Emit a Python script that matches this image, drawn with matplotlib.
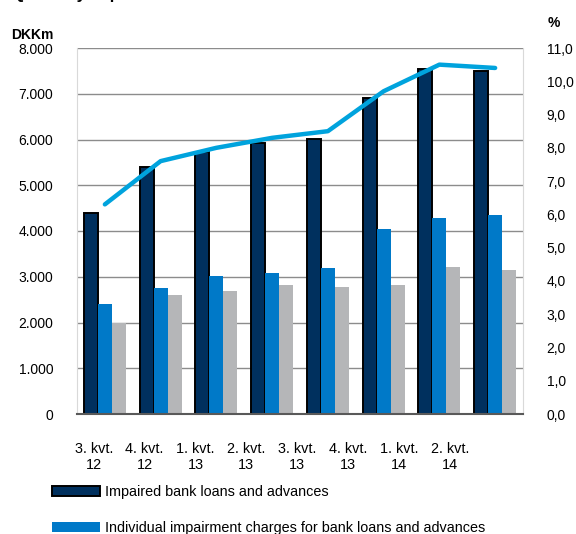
import matplotlib.pyplot as plt
import numpy as np

plt.rcParams['font.family'] = ['Liberation Sans', 'DejaVu Sans']

quarters = ["3. kvt.\n12", "4. kvt.\n12", "1. kvt.\n13", "2. kvt.\n13",
            "3. kvt.\n13", "4. kvt.\n13", "1. kvt.\n14", "2. kvt.\n14"]
impaired = [4400, 5400, 5720, 5930, 6010, 6900, 7540, 7500]
individual = [2400, 2760, 3010, 3080, 3190, 4050, 4290, 4340]
collective = [1990, 2610, 2680, 2810, 2780, 2810, 3210, 3140]
share_pct = [6.3, 7.6, 8.0, 8.3, 8.5, 9.7, 10.5, 10.4]

left_ticks = np.arange(0, 8001, 1000)
left_labels = ["0", "1.000", "2.000", "3.000", "4.000", "5.000", "6.000", "7.000", "8.000"]
right_ticks = np.arange(0, 12, 1)
right_labels = ["%d,0" % v for v in right_ticks]

navy = "#00305E"
blue = "#0079C8"
grey = "#B5B6B8"
line_blue = "#00A3DD"

fig = plt.figure(figsize=(5.76, 5.34), dpi=100)
ax = fig.add_axes([77 / 576, 1 - 414 / 534, 446 / 576, 366 / 534])

x = np.arange(len(quarters))
w = 0.25
b1 = ax.bar(x - w, impaired, w, color=navy, edgecolor="black", linewidth=1.4, zorder=3,
            label="Impaired bank loans and advances")
b2 = ax.bar(x, individual, w, color=blue, zorder=3,
            label="Individual impairment charges for bank loans and advances")
b3 = ax.bar(x + w, collective, w, color=grey, zorder=3,
            label="Collective impairment charges for bank loans and advances")

ax.set_xlim(-0.5, len(quarters) - 0.5)
ax.set_ylim(0, 8000)
ax.set_yticks(left_ticks)
ax.set_yticklabels(left_labels)
ax.grid(axis="y", color="#8C8C8C", linewidth=1, zorder=0)
ax.set_axisbelow(True)

# category labels sit a bit left of the bar groups in the source chart
ax.set_xticks(np.linspace(-0.2, 6.19, len(quarters)))
ax.set_xticklabels(quarters, linespacing=1.2)
ax.tick_params(axis="x", length=0, pad=20, labelsize=10.4)
ax.tick_params(axis="y", length=0, pad=17, labelsize=10)

for s in ["left", "right"]:
    ax.spines[s].set_color("#D9D9D9")
ax.spines["top"].set_visible(False)
ax.spines["bottom"].set_color("#595959")
ax.spines["bottom"].set_linewidth(1.5)
ax.spines["bottom"].set_zorder(4)

ax2 = ax.twinx()
ln, = ax2.plot(x, share_pct, color=line_blue, linewidth=3.2, solid_capstyle="round",
               solid_joinstyle="round", zorder=5,
               label="Impaired loans as share of total bank loans (right axis)")
ax2.set_ylim(0, 11)
ax2.set_yticks(right_ticks)
ax2.set_yticklabels(right_labels)
ax2.tick_params(axis="y", length=0, pad=17, labelsize=10)
for s in ["left", "right", "top", "bottom"]:
    ax2.spines[s].set_visible(False)
ax.set_zorder(1)
ax2.set_zorder(2)
ax2.patch.set_visible(False)

fig.text(32 / 576, 1 - 35 / 534, "DKKm", fontsize=10, fontweight="bold", ha="center", va="center")
fig.text(554 / 576, 1 - 23 / 534, "%", fontsize=10, fontweight="bold", ha="center", va="center")
# title is mostly cropped away in the source image, only descenders show
fig.text(12 / 576, 1 + 1.5 / 534, "Quarterly impairment of bank loans and advances",
         fontsize=12, fontweight="bold", ha="left", va="baseline")

fig.legend(handles=[b1, b2, b3, ln], loc="upper left",
           bbox_to_anchor=(52 / 576, 1 - 485 / 534), frameon=False,
           fontsize=10.4, handlelength=3.3, handleheight=0.65, handletextpad=0.4,
           labelspacing=1.55, borderpad=0, borderaxespad=0)

fig.savefig("out.png", dpi=100)
